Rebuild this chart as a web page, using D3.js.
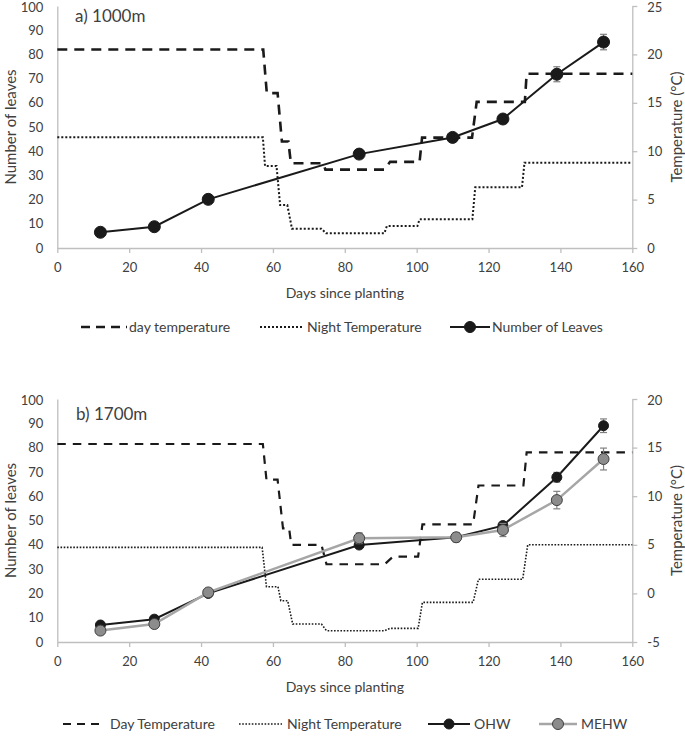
<!DOCTYPE html>
<html><head><meta charset="utf-8">
<script src="https://cdn.jsdelivr.net/npm/d3@7"></script>
<style>
body{margin:0;background:#fff}
text{font-family:Lato,"Open Sans",sans-serif;fill:#404040}
</style>
</head><body>
<svg id="chart" width="685" height="737"></svg>
<script>
// ---------- DATA ----------
const xTicks = [0,20,40,60,80,100,120,140,160];
const leafTicks = [0,10,20,30,40,50,60,70,80,90,100];
const tempTicksA = [0,5,10,15,20,25];
const tempTicksB = [-5,0,5,10,15,20];

// Panel a) 1000m
const leafDaysA = [12,27,42,84,110,124,139,152];
const leavesA   = [6.5,8.8,20.1,38.8,45.7,53.3,71.8,85.1];
const leavesAErr= [0.6,0.6,0.8,1.0,1.2,1.5,3.1,3.2];

const dayTempDaysA = [0,57.3,58.3,61.3,62.5,64.3,65,74,74.6,91,92.6,100.8,101.5,115.4,116.7,130.1,130.6,160];
const dayTempA     = [20.5,20.5,16.0,16.0,11.0,11.0,8.75,8.75,8.1,8.1,8.9,8.9,11.4,11.4,15.1,15.1,18.0,18.0];
const nightTempDaysA = [0,57.2,57.8,61,62,64,65.3,73.5,74.8,91,91.7,100.2,100.8,115.5,116.3,129.3,130,160];
const nightTempA     = [11.43,11.43,8.47,8.47,4.44,4.44,2.0,2.0,1.52,1.52,2.27,2.27,2.96,2.96,6.27,6.27,8.81,8.81];

// Panel b) 1700m
const leafDaysB = [12,27,42,84,111,124,139,152];
const ohw      = [7.0,9.4,20.0,39.9,43.1,47.9,67.8,89.0];
const ohwErr   = [0.8,0.8,1.0,1.0,1.2,1.5,2.0,2.8];
const mehw     = [4.7,7.4,20.4,42.7,43.1,46.1,58.4,75.3];
const mehwErr  = [0.8,0.8,1.0,2.2,1.9,2.7,3.6,4.5];

const dayTempDaysB = [0,57.2,58.2,61.3,62.8,64.5,65.1,73.5,74.9,91.1,93.4,100.4,101.6,115.7,117.2,129.7,130.6,160];
const dayTempB     = [15.37,15.37,11.7,11.7,6.7,6.7,5.0,5.0,3.0,3.0,3.78,3.78,7.1,7.1,11.1,11.1,14.5,14.5];
const nightTempDaysB = [0,57,58.2,61.4,62.2,64.1,65.5,73.5,74.9,91.1,92.5,100.4,101.6,115.7,117.2,129.5,130.9,160];
const nightTempB     = [4.74,4.74,0.69,0.69,-0.75,-0.75,-3.15,-3.15,-3.84,-3.84,-3.6,-3.6,-0.92,-0.92,1.45,1.45,5.0,5.0];

// ---------- DRAW ----------
const svg = d3.select("#chart");
const X0 = 57.3, X1 = 632.3;
const AXIS_COL = "#bfbfbf";

function panel(cfg){
  const g = svg.append("g");
  const x = d3.scaleLinear().domain([0,160]).range([X0,X1]);
  const yL = d3.scaleLinear().domain([0,100]).range([cfg.yBottom,cfg.yTop]);
  const yR = d3.scaleLinear().domain(cfg.tempDomain).range([cfg.yBottom,cfg.yTop]);

  // axes
  const ax = g.append("g").attr("transform",`translate(0,${cfg.yBottom})`)
    .call(d3.axisBottom(x).tickValues(xTicks).tickSize(5).tickSizeOuter(0).tickPadding(10));
  const al = g.append("g").attr("transform",`translate(${X0},0)`)
    .call(d3.axisLeft(yL).tickValues(leafTicks).tickSize(0).tickPadding(14));
  const ar = g.append("g").attr("transform",`translate(${X1},0)`)
    .call(d3.axisRight(yR).tickValues(cfg.tempTicks).tickSize(5).tickSizeOuter(0).tickPadding(10).tickFormat(d=>String(d)));
  [ax,al,ar].forEach(a=>{
    a.selectAll("path.domain").attr("stroke",AXIS_COL).attr("stroke-width",1.3);
    a.selectAll(".tick line").attr("stroke",AXIS_COL).attr("stroke-width",1.3);
    a.selectAll("text").style("font-size","13px").style("font-family","Lato,'Open Sans',sans-serif").attr("fill","#404040");
  });
  // keep the topmost labels inside the picture
  [al,ar].forEach(a=>a.selectAll(".tick text").filter(function(){return +this.parentNode.getAttribute("transform").match(/,([\d.]+)\)/)[1] < cfg.yTop+1;}).attr("dy","0.45em"));

  // titles
  g.append("text").attr("x",cfg.titleX).attr("y",cfg.titleY).style("font-size","17px").text(cfg.title);
  g.append("text").attr("x",(X0+X1)/2).attr("y",cfg.yBottom+50).attr("text-anchor","middle")
    .style("font-size","14px").text("Days since planting");
  const yc = (cfg.yTop+cfg.yBottom)/2;
  g.append("text").attr("transform",`translate(16,${yc}) rotate(-90)`).attr("text-anchor","middle")
    .style("font-size","15px").text("Number of leaves");
  g.append("text").attr("transform",`translate(682,${yc}) rotate(-90)`).attr("text-anchor","middle")
    .style("font-size","15px").text("Temperature (°C)");

  // temperature lines
  const tl = d3.line().x(d=>x(d[0])).y(d=>yR(d[1]));
  g.append("path").datum(d3.zip(cfg.dayDays,cfg.dayTemp)).attr("d",tl)
    .attr("fill","none").attr("stroke","#1a1a1a").attr("stroke-width",cfg.dashW).attr("stroke-dasharray",cfg.dash);
  g.append("path").datum(d3.zip(cfg.nightDays,cfg.nightTemp)).attr("d",tl)
    .attr("fill","none").attr("stroke","#1a1a1a").attr("stroke-width",cfg.dotW).attr("stroke-dasharray",cfg.dot);

  // leaf series
  const ll = d3.line().x(d=>x(d[0])).y(d=>yL(d[1]));
  cfg.series.forEach(s=>{
    const pts = d3.zip(cfg.leafDays,s.values,s.err);
    g.append("path").datum(pts).attr("d",ll).attr("fill","none").attr("stroke",s.line).attr("stroke-width",s.lw);
    const eb = g.append("g");
    pts.forEach(p=>{
      const xx=x(p[0]), y1=yL(p[1]+p[2]), y2=yL(p[1]-p[2]);
      eb.append("line").attr("x1",xx).attr("x2",xx).attr("y1",y1).attr("y2",y2).attr("stroke","#808080").attr("stroke-width",1.2);
      [y1,y2].forEach(yy=>eb.append("line").attr("x1",xx-3.5).attr("x2",xx+3.5).attr("y1",yy).attr("y2",yy).attr("stroke","#808080").attr("stroke-width",1.2));
    });
    g.append("g").selectAll("circle").data(pts).join("circle")
      .attr("cx",p=>x(p[0])).attr("cy",p=>yL(p[1])).attr("r",s.r)
      .attr("fill",s.fill).attr("stroke",s.stroke).attr("stroke-width",1);
  });

  // legend
  const ly = cfg.legendY;
  const lg = g.append("g");
  cfg.legend.forEach(it=>{
    if(it.type==="dash"||it.type==="dot"){
      lg.append("line").attr("x1",it.x1).attr("x2",it.x2).attr("y1",ly).attr("y2",ly)
        .attr("stroke","#1a1a1a").attr("stroke-width",it.type==="dash"?cfg.dashW:cfg.dotW)
        .attr("stroke-dasharray",it.type==="dash"?cfg.legDash:cfg.dot);
    } else {
      lg.append("line").attr("x1",it.x1).attr("x2",it.x2).attr("y1",ly).attr("y2",ly)
        .attr("stroke",it.line).attr("stroke-width",it.lw);
      lg.append("circle").attr("cx",(it.x1+it.x2)/2).attr("cy",ly).attr("r",it.r)
        .attr("fill",it.fill).attr("stroke",it.stroke).attr("stroke-width",1);
    }
    lg.append("text").attr("x",it.tx).attr("y",ly).attr("dy","0.35em").style("font-size","14px").text(it.label);
  });
}

panel({
  yTop:6, yBottom:248, tempDomain:[0,25], tempTicks:tempTicksA,
  title:"a) 1000m", titleX:75, titleY:22,
  dayDays:dayTempDaysA, dayTemp:dayTempA, nightDays:nightTempDaysA, nightTemp:nightTempA,
  dash:"10,7", dashW:2.6, dot:"2,2", dotW:2, legDash:"9,6",
  leafDays:leafDaysA,
  series:[{values:leavesA, err:leavesAErr, line:"#1a1a1a", lw:2, r:6, fill:"#1a1a1a", stroke:"#1a1a1a"}],
  legendY:327,
  legend:[
    {type:"dash", x1:81, x2:127, tx:129, label:"day temperature"},
    {type:"dot", x1:260, x2:302, tx:307, label:"Night Temperature"},
    {type:"mark", x1:450, x2:490, tx:492, label:"Number of Leaves", line:"#1a1a1a", lw:2, r:5.5, fill:"#1a1a1a", stroke:"#1a1a1a"}
  ]
});

panel({
  yTop:399, yBottom:642, tempDomain:[-5,20], tempTicks:tempTicksB,
  title:"b) 1700m", titleX:76, titleY:420,
  dayDays:dayTempDaysB, dayTemp:dayTempB, nightDays:nightTempDaysB, nightTemp:nightTempB,
  dash:"8.5,7", dashW:2.2, dot:"1.6,1.6", dotW:1.6, legDash:"8,6",
  leafDays:leafDaysB,
  series:[
    {values:ohw, err:ohwErr, line:"#1a1a1a", lw:2, r:5, fill:"#1a1a1a", stroke:"#1a1a1a"},
    {values:mehw, err:mehwErr, line:"#a6a6a6", lw:2.5, r:5.5, fill:"#8c8c8c", stroke:"#404040"}
  ],
  legendY:724,
  legend:[
    {type:"dash", x1:63, x2:100, tx:110, label:"Day Temperature"},
    {type:"dot", x1:239, x2:282, tx:287, label:"Night Temperature"},
    {type:"mark", x1:428, x2:470, tx:474, label:"OHW", line:"#1a1a1a", lw:2, r:5, fill:"#1a1a1a", stroke:"#1a1a1a"},
    {type:"mark", x1:539, x2:577, tx:581, label:"MEHW", line:"#a6a6a6", lw:2.5, r:5.5, fill:"#8c8c8c", stroke:"#404040"}
  ]
});
</script>
</body></html>
